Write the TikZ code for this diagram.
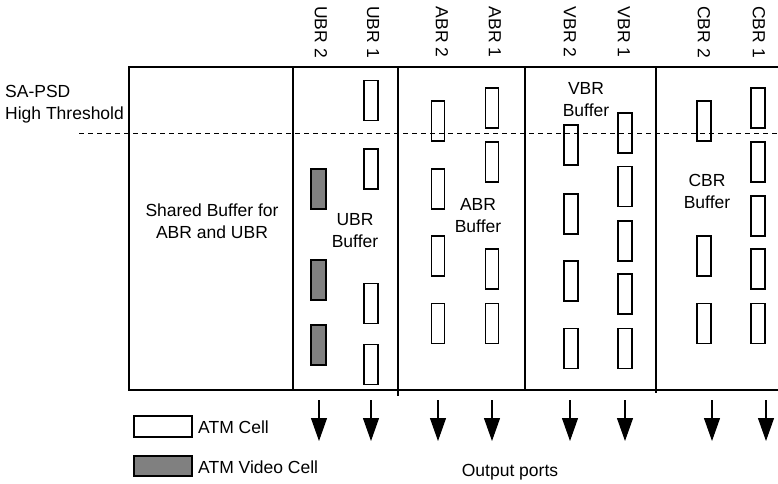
\documentclass[tikz,border=0pt]{standalone}
\usepackage{fontspec}
\setmainfont{Liberation Sans}
\usetikzlibrary{arrows.meta}
\begin{document}
\begin{tikzpicture}[x=1pt,y=-1pt,
  frame/.style={line width=1.5pt},
  thresh/.style={line width=0.9pt,dash pattern=on 5pt off 4pt},
  cellbox/.style={draw,line width=1.2pt,minimum width=14pt,minimum height=40pt,inner sep=0pt},
  vidcell/.style={cellbox,fill=black!50},
  txt/.style={font=\fontsize{17.5}{22}\selectfont,inner sep=0pt,align=center},
  collabel/.style={txt,rotate=-90},
  arr/.style={line width=1.1pt,-{Triangle[width=16pt,length=23pt]}}]
\useasboundingbox (0,0) rectangle (778,483);
% frame
\coordinate (tl) at (129,67);
\coordinate (bl) at (129,390);
\coordinate (tr) at (778,67);
\coordinate (br) at (778,390);
\draw[frame] (tr) -- (tl) -- (bl) -- (br);
\foreach \x/\b in {293/390,398/396,525/390,656/393}{
  \coordinate (dt\x) at (\x,67);
  \coordinate (db\x) at (\x,\b);
  \draw[frame] (dt\x) -- (db\x);
}
% threshold line
\coordinate (th1) at (79,133);
\coordinate (th2) at (778,133);
\draw[thresh] (th1) -- (th2);
% column labels
\foreach \x/\t/\n in {321/UBR 2/lu2,373/UBR 1/lu1,442/ABR 2/la2,495/ABR 1/la1,570/VBR 2/lv2,624/VBR 1/lv1,704/CBR 2/lc2,759/CBR 1/lc1}{
  \node[collabel] (\n) at (\x,32) {\t};
}
% cells
\foreach \y [count=\i] in {189,280,345}{\node[vidcell,minimum width=15pt] (u2-\i) at (318.5,\y) {};}
\foreach \y [count=\i] in {100.5,169,303.5,364.5}{\node[cellbox] (u1-\i) at (371,\y) {};}
\foreach \y [count=\i] in {121,189,256,323.5}{\node[cellbox,minimum width=13pt] (a2-\i) at (438,\y) {};}
\foreach \y [count=\i] in {108,162,269,323.5}{\node[cellbox,minimum width=13pt] (a1-\i) at (492,\y) {};}
\foreach \y [count=\i] in {145,214,281,348.5}{\node[cellbox] (v2-\i) at (571,\y) {};}
\foreach \y [count=\i] in {133,186.5,241,294,348.5}{\node[cellbox] (v1-\i) at (625,\y) {};}
\foreach \y [count=\i] in {121,256,323.5}{\node[cellbox] (c2-\i) at (704,\y) {};}
\foreach \y [count=\i] in {108,162,216,269,323.5}{\node[cellbox] (c1-\i) at (758,\y) {};}
% texts
\node[txt,align=left,anchor=west] (sapsd) at (5,104) {SA-PSD\\High Threshold};
\node[txt] (shared) at (212,221.5) {Shared Buffer for\\ABR and UBR};
\node[txt] (ubrbuf) at (355,230.5) {UBR\\Buffer};
\node[txt] (abrbuf) at (478,215.5) {ABR\\Buffer};
\node[txt] (vbrbuf) at (586,99.5) {VBR\\Buffer};
\node[txt] (cbrbuf) at (707,191.5) {CBR\\Buffer};
% output arrows
\foreach \x [count=\i] in {319,371,438,492,570,625,712,766}{
  \coordinate (ps\i) at (\x,400);
  \coordinate (pe\i) at (\x,441);
  \draw[arr] (ps\i) -- (pe\i);
}
\node[txt] (ports) at (510,472.5) {Output ports};
% legend
\node[cellbox,minimum width=58pt,minimum height=21pt] (legcell) at (163,426.5) {};
\node[txt,anchor=west] (legcelltxt) at (198,427.5) {ATM Cell};
\node[vidcell,minimum width=58pt,minimum height=20pt] (legvid) at (163,466) {};
\node[txt,anchor=west] (legvidtxt) at (198,467) {ATM Video Cell};
\end{tikzpicture}
\end{document}
